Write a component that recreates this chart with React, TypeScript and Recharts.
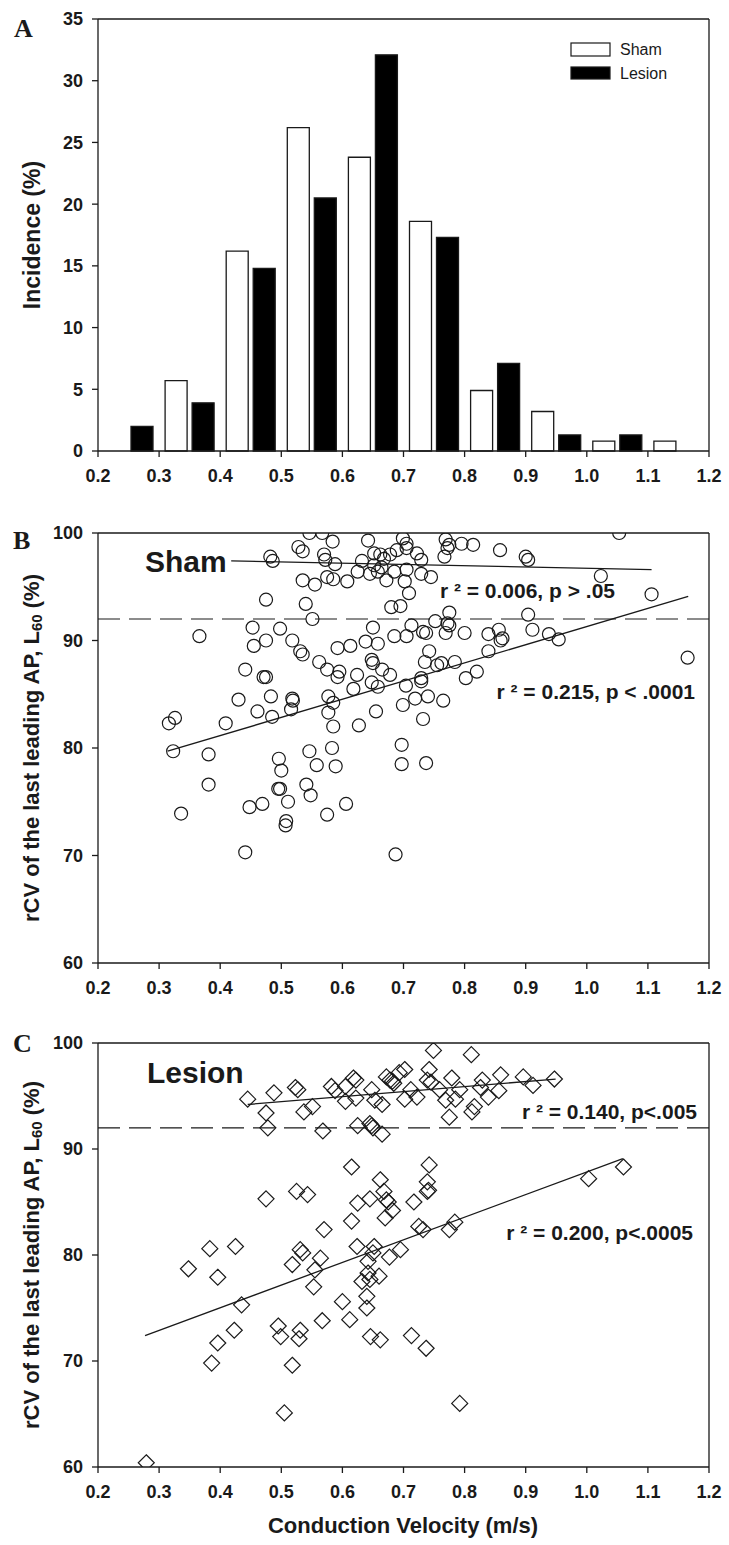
import { BarChart, Bar, ScatterChart, Scatter, XAxis, YAxis, ReferenceLine, Legend } from 'recharts';

const FONT = "'Liberation Sans', Arial, Helvetica, sans-serif";
const SERIF = "'Liberation Serif', 'Times New Roman', serif";
const INK = '#1a1a1a';

// histogram (panel A)
const binStarts = [0.2, 0.3, 0.4, 0.5, 0.6, 0.7, 0.8, 0.9, 1.0, 1.1];
const shamIncidence = [0, 5.7, 16.2, 26.2, 23.8, 18.6, 4.9, 3.2, 0.8, 0.8];
const lesionIncidence = [2.0, 3.9, 14.8, 20.5, 32.1, 17.3, 7.1, 1.3, 1.3, 0];

const velocityTicks = [0.2, 0.3, 0.4, 0.5, 0.6, 0.7, 0.8, 0.9, 1.0, 1.1, 1.2];
const incidenceTicks = [0, 5, 10, 15, 20, 25, 30, 35];
const rcvTicks = [60, 70, 80, 90, 100];
const cutoff = 92;

// [conduction velocity (m/s), rCV L60 (%)]
const shamPoints: [number, number][] = [
  [0.546, 100.0], [0.567, 100.0], [0.584, 99.2], [0.528, 98.7], [0.535, 98.3], [0.642, 99.3], [0.699, 99.5], [0.705, 99.0],
  [0.705, 98.6], [0.769, 99.4], [0.775, 98.9], [0.772, 98.6], [0.795, 99.0], [0.814, 98.9], [0.858, 98.4], [0.9, 97.8],
  [0.904, 97.5], [1.053, 100.0], [0.482, 97.8], [0.486, 97.4], [0.57, 98.0], [0.572, 97.5], [0.588, 97.1], [0.652, 98.1],
  [0.662, 98.0], [0.668, 97.6], [0.678, 98.0], [0.689, 98.4], [0.722, 98.1], [0.729, 97.5], [0.767, 97.8], [0.632, 97.4],
  [0.652, 97.0], [0.664, 96.8], [0.658, 96.4], [0.645, 96.2], [0.685, 96.4], [0.705, 96.6], [0.729, 96.2], [0.745, 95.9],
  [0.535, 95.6], [0.555, 95.2], [0.575, 95.9], [0.585, 95.7], [0.608, 95.5], [0.625, 96.4], [0.672, 95.6], [0.702, 95.5],
  [0.709, 94.4], [1.023, 96.0], [1.106, 94.3], [0.475, 93.8], [0.54, 93.4], [0.551, 92.0], [0.68, 93.1], [0.695, 93.2],
  [0.775, 92.6], [0.752, 91.8], [0.772, 91.6], [0.775, 91.4], [0.904, 92.4], [0.911, 91.0], [0.366, 90.4], [0.453, 91.2],
  [0.475, 90.0], [0.455, 89.5], [0.498, 91.1], [0.518, 90.0], [0.535, 88.7], [0.531, 89.0], [0.592, 89.3], [0.613, 89.5],
  [0.638, 89.9], [0.658, 89.7], [0.65, 91.2], [0.685, 90.4], [0.705, 90.4], [0.713, 91.4], [0.732, 90.8], [0.737, 90.7],
  [0.769, 90.7], [0.8, 90.7], [0.839, 90.6], [0.856, 91.0], [0.862, 90.2], [0.859, 90.0], [0.938, 90.6], [0.954, 90.1],
  [0.839, 89.0], [1.165, 88.4], [0.742, 89.0], [0.735, 88.0], [0.755, 87.7], [0.762, 87.9], [0.784, 88.0], [0.562, 88.0],
  [0.575, 87.3], [0.595, 87.1], [0.592, 86.6], [0.624, 86.8], [0.648, 88.2], [0.65, 87.9], [0.665, 87.3], [0.678, 86.8],
  [0.441, 87.3], [0.471, 86.6], [0.475, 86.6], [0.729, 86.5], [0.802, 86.5], [0.82, 87.1], [0.648, 86.1], [0.658, 85.7],
  [0.618, 85.5], [0.704, 85.8], [0.729, 86.2], [0.43, 84.5], [0.483, 84.8], [0.518, 84.6], [0.519, 84.4], [0.516, 83.6],
  [0.577, 84.8], [0.585, 84.2], [0.461, 83.4], [0.485, 82.9], [0.577, 83.3], [0.655, 83.4], [0.699, 84.0], [0.719, 84.6],
  [0.74, 84.8], [0.765, 84.4], [0.326, 82.8], [0.316, 82.3], [0.409, 82.3], [0.585, 82.0], [0.627, 82.1], [0.732, 82.7],
  [0.323, 79.7], [0.381, 79.4], [0.381, 76.6], [0.336, 73.9], [0.441, 70.3], [0.448, 74.5], [0.469, 74.8], [0.496, 79.0],
  [0.5, 77.9], [0.495, 76.2], [0.498, 76.2], [0.511, 75.0], [0.508, 73.2], [0.507, 72.8], [0.546, 79.7], [0.558, 78.4],
  [0.541, 76.6], [0.548, 75.6], [0.583, 80.0], [0.589, 78.3], [0.575, 73.8], [0.606, 74.8], [0.687, 70.1], [0.697, 80.3],
  [0.697, 78.5], [0.737, 78.6],
];

const lesionPoints: [number, number][] = [
  [0.749, 99.3], [0.811, 98.9], [0.445, 94.7], [0.488, 95.3], [0.523, 95.8], [0.527, 95.6], [0.475, 93.4], [0.478, 92.0],
  [0.537, 93.5], [0.551, 94.0], [0.568, 91.7], [0.582, 95.9], [0.588, 95.5], [0.605, 95.9], [0.605, 94.5], [0.618, 96.7],
  [0.622, 96.5], [0.622, 94.8], [0.625, 92.2], [0.645, 92.4], [0.648, 92.2], [0.65, 92.0], [0.665, 91.4], [0.648, 95.6],
  [0.653, 94.6], [0.665, 94.2], [0.672, 96.8], [0.678, 96.5], [0.682, 96.4], [0.684, 96.2], [0.693, 97.2], [0.702, 97.5],
  [0.702, 94.7], [0.712, 95.6], [0.722, 94.9], [0.742, 97.5], [0.739, 96.5], [0.745, 96.3], [0.759, 95.6], [0.769, 94.6],
  [0.775, 93.0], [0.779, 96.7], [0.785, 94.7], [0.792, 95.6], [0.816, 94.0], [0.812, 93.5], [0.829, 96.5], [0.839, 94.9],
  [0.856, 95.5], [0.859, 97.0], [0.826, 95.8], [0.896, 96.8], [0.912, 96.0], [0.947, 96.6],
  [0.615, 88.3], [0.742, 88.5], [0.662, 87.1], [0.668, 86.0], [0.672, 85.2], [0.675, 85.0], [0.682, 84.2], [0.67, 83.5],
  [0.739, 86.9], [0.739, 86.0], [0.741, 86.1], [0.525, 86.0], [0.543, 85.7], [0.475, 85.3], [0.625, 84.9], [0.645, 85.3],
  [0.717, 85.0], [0.615, 83.2], [0.57, 82.4], [0.725, 82.7], [0.732, 82.4], [0.775, 82.4], [0.784, 83.1], [1.003, 87.2],
  [1.06, 88.3], [0.383, 80.6], [0.425, 80.8], [0.348, 78.7], [0.396, 77.9], [0.435, 75.3], [0.423, 72.9], [0.396, 71.7],
  [0.386, 69.8], [0.495, 73.3], [0.499, 72.3], [0.518, 79.1], [0.531, 80.5], [0.535, 80.2], [0.564, 79.7], [0.555, 78.6],
  [0.553, 77.0], [0.531, 72.9], [0.529, 72.1], [0.567, 73.8], [0.518, 69.6], [0.505, 65.1], [0.6, 75.6], [0.612, 73.9],
  [0.624, 80.8], [0.652, 80.8], [0.65, 80.2], [0.642, 79.4], [0.642, 78.3], [0.632, 77.5], [0.645, 77.7], [0.66, 78.0],
  [0.677, 79.8], [0.695, 80.5], [0.64, 76.1], [0.64, 75.0], [0.646, 72.3], [0.662, 72.0], [0.713, 72.4], [0.737, 71.2],
  [0.792, 66.0], [0.279, 60.4],
];

// regression line end points
const shamFitUpper: [number, number][] = [[0.418, 97.4], [1.106, 96.6]];
const shamFitLower: [number, number][] = [[0.314, 79.7], [1.166, 94.1]];
const lesionFitUpper: [number, number][] = [[0.445, 94.2], [0.949, 96.6]];
const lesionFitLower: [number, number][] = [[0.277, 72.4], [1.059, 89.1]];

const histData = binStarts.map((b, i) => ({
  bin: b.toFixed(1),
  mid: b + 0.05,
  sham: shamIncidence[i],
  lesion: lesionIncidence[i],
}));

const toXY = (pts: [number, number][]) => pts.map(([x, y]) => ({ x, y }));

const tickStyle = { fontSize: 18, fontWeight: 700, fill: INK, fontFamily: FONT };
const axisLine = { stroke: INK, strokeWidth: 1.3 };
const fmt1 = (v: number) => v.toFixed(1);
const noTick = () => <g />;

const OpenCircle = (props: any) => (
  <circle cx={props.cx} cy={props.cy} r={6.5} fill="none" stroke={INK} strokeWidth={1.2} />
);

const OpenDiamond = (props: any) => {
  const { cx, cy } = props;
  const s = 8;
  return (
    <path
      d={`M${cx},${cy - s}L${cx + s},${cy}L${cx},${cy + s}L${cx - s},${cy}Z`}
      fill="none"
      stroke={INK}
      strokeWidth={1.2}
    />
  );
};

const HistLegend = () => (
  <svg width={110} height={46} style={{ display: 'block' }}>
    <rect x={3} y={5} width={39} height={13} fill="#fff" stroke={INK} strokeWidth={1.2} />
    <text x={52} y={17} fontSize={16} fontFamily={FONT} fill={INK}>Sham</text>
    <rect x={3} y={29} width={39} height={12} fill="#000" stroke={INK} strokeWidth={1.2} />
    <text x={52} y={41} fontSize={16} fontFamily={FONT} fill={INK}>Lesion</text>
  </svg>
);

interface ScatterPanelProps {
  top: number;
  height: number;
  xAxisHeight: number;
  points: [number, number][];
  fitUpper: [number, number][];
  fitLower: [number, number][];
  marker: (props: any) => JSX.Element;
}

const ScatterPanel = ({ top, height, xAxisHeight, points, fitUpper, fitLower, marker }: ScatterPanelProps) => (
  <div style={{ position: 'absolute', left: 0, top }}>
    <ScatterChart width={729} height={height} margin={{ top: 33, right: 19, left: 0, bottom: 0 }}>
      <XAxis
        dataKey="x"
        type="number"
        domain={[0.2, 1.2]}
        ticks={velocityTicks}
        interval={0}
        tickFormatter={fmt1}
        height={xAxisHeight}
        tickSize={6}
        tickMargin={12}
        tick={tickStyle}
        axisLine={axisLine}
        tickLine={axisLine}
        allowDataOverflow
      />
      <YAxis
        dataKey="y"
        type="number"
        domain={[60, 100]}
        ticks={rcvTicks}
        interval={0}
        width={98}
        tickSize={6}
        tickMargin={9}
        tick={tickStyle}
        axisLine={axisLine}
        tickLine={axisLine}
        allowDataOverflow
      />
      <YAxis
        yAxisId="r"
        orientation="right"
        type="number"
        domain={[60, 100]}
        ticks={rcvTicks}
        interval={0}
        width={1}
        tickSize={6}
        tick={noTick}
        axisLine={axisLine}
        tickLine={axisLine}
      />
      <ReferenceLine y={100} stroke={INK} strokeWidth={1.3} />
      <ReferenceLine y={cutoff} stroke={INK} strokeWidth={1.2} strokeDasharray="22 9" />
      <Scatter data={toXY(points)} shape={marker} isAnimationActive={false} />
      <Scatter
        data={toXY(fitUpper)}
        line={{ stroke: INK, strokeWidth: 1.3 }}
        shape={noTick}
        isAnimationActive={false}
      />
      <Scatter
        data={toXY(fitLower)}
        line={{ stroke: INK, strokeWidth: 1.3 }}
        shape={noTick}
        isAnimationActive={false}
      />
    </ScatterChart>
  </div>
);

const App = () => {
  const boldText = { fontFamily: FONT, fontWeight: 700, fill: INK } as const;
  const rcvTitle = (cy: number) => (
    <text
      x={31}
      y={cy}
      transform={`rotate(-90 31 ${cy})`}
      textAnchor="middle"
      dominantBaseline="central"
      fontSize={22}
      {...boldText}
    >
      rCV of the last leading AP, L<tspan fontSize={15} dy={5}>60</tspan>
      <tspan dy={-5}> (%)</tspan>
    </text>
  );

  return (
    <div style={{ position: 'absolute', left: 0, top: 0, width: 729, height: 1545, background: '#fff' }}>
      {/* Panel A: histogram */}
      <div style={{ position: 'absolute', left: 0, top: 0 }}>
        <BarChart
          width={729}
          height={500}
          data={histData}
          margin={{ top: 19, right: 19, left: 0, bottom: 0 }}
          barCategoryGap={6}
          barGap={5}
        >
          <XAxis
            dataKey="mid"
            type="number"
            domain={[0.2, 1.2]}
            ticks={velocityTicks}
            interval={0}
            tickFormatter={fmt1}
            height={49}
            tickSize={6}
            tickMargin={12}
            tick={tickStyle}
            axisLine={axisLine}
            tickLine={axisLine}
            allowDataOverflow
          />
          <XAxis xAxisId="cat" dataKey="bin" orientation="top" height={0} hide />
          <YAxis
            domain={[0, 35]}
            ticks={incidenceTicks}
            interval={0}
            width={98}
            tickSize={6}
            tickMargin={9}
            tick={tickStyle}
            axisLine={axisLine}
            tickLine={axisLine}
          />
          <YAxis
            yAxisId="r"
            orientation="right"
            domain={[0, 35]}
            ticks={incidenceTicks}
            interval={0}
            width={1}
            tickSize={6}
            tick={noTick}
            axisLine={axisLine}
            tickLine={axisLine}
          />
          <ReferenceLine y={35} stroke={INK} strokeWidth={1.3} />
          <Bar xAxisId="cat" dataKey="sham" name="Sham" fill="#fff" stroke={INK} strokeWidth={1.3} isAnimationActive={false} />
          <Bar xAxisId="cat" dataKey="lesion" name="Lesion" fill="#000" stroke={INK} strokeWidth={1.3} isAnimationActive={false} />
          <Legend
            layout="vertical"
            align="center"
            verticalAlign="middle"
            content={HistLegend}
            wrapperStyle={{ left: 568, top: 38, width: 110, height: 46 }}
          />
        </BarChart>
      </div>

      {/* Panel B: sham scatter */}
      <ScatterPanel
        top={500}
        height={530}
        xAxisHeight={67}
        points={shamPoints}
        fitUpper={shamFitUpper}
        fitLower={shamFitLower}
        marker={OpenCircle}
      />

      {/* Panel C: lesion scatter */}
      <ScatterPanel
        top={1010}
        height={535}
        xAxisHeight={78}
        points={lesionPoints}
        fitUpper={lesionFitUpper}
        fitLower={lesionFitLower}
        marker={OpenDiamond}
      />

      {/* titles and annotations */}
      <svg
        width={729}
        height={1545}
        style={{ position: 'absolute', left: 0, top: 0, pointerEvents: 'none' }}
      >
        <text x={14} y={37} fontSize={26} fontWeight={700} fontFamily={SERIF} fill={INK}>A</text>
        <text x={13} y={549} fontSize={26} fontWeight={700} fontFamily={SERIF} fill={INK}>B</text>
        <text x={13} y={1052} fontSize={26} fontWeight={700} fontFamily={SERIF} fill={INK}>C</text>

        <text
          x={32}
          y={235}
          transform="rotate(-90 32 235)"
          textAnchor="middle"
          dominantBaseline="central"
          fontSize={23}
          {...boldText}
        >
          Incidence (%)
        </text>
        {rcvTitle(748)}
        {rcvTitle(1255)}
        <text x={403} y={1533} textAnchor="middle" fontSize={22} {...boldText}>
          Conduction Velocity (m/s)
        </text>

        <text x={145} y={572} fontSize={30} {...boldText}>Sham</text>
        <text x={615} y={598} textAnchor="end" fontSize={21} {...boldText}>r ² = 0.006, p &gt; .05</text>
        <text x={695} y={699} textAnchor="end" fontSize={21} {...boldText}>r ² = 0.215, p &lt; .0001</text>

        <text x={147} y={1083} fontSize={30} {...boldText}>Lesion</text>
        <text x={697} y={1119} textAnchor="end" fontSize={21} {...boldText}>r ² = 0.140, p&lt;.005</text>
        <text x={693} y={1240} textAnchor="end" fontSize={21} {...boldText}>r ² = 0.200, p&lt;.0005</text>
      </svg>
    </div>
  );
};

export default App;
